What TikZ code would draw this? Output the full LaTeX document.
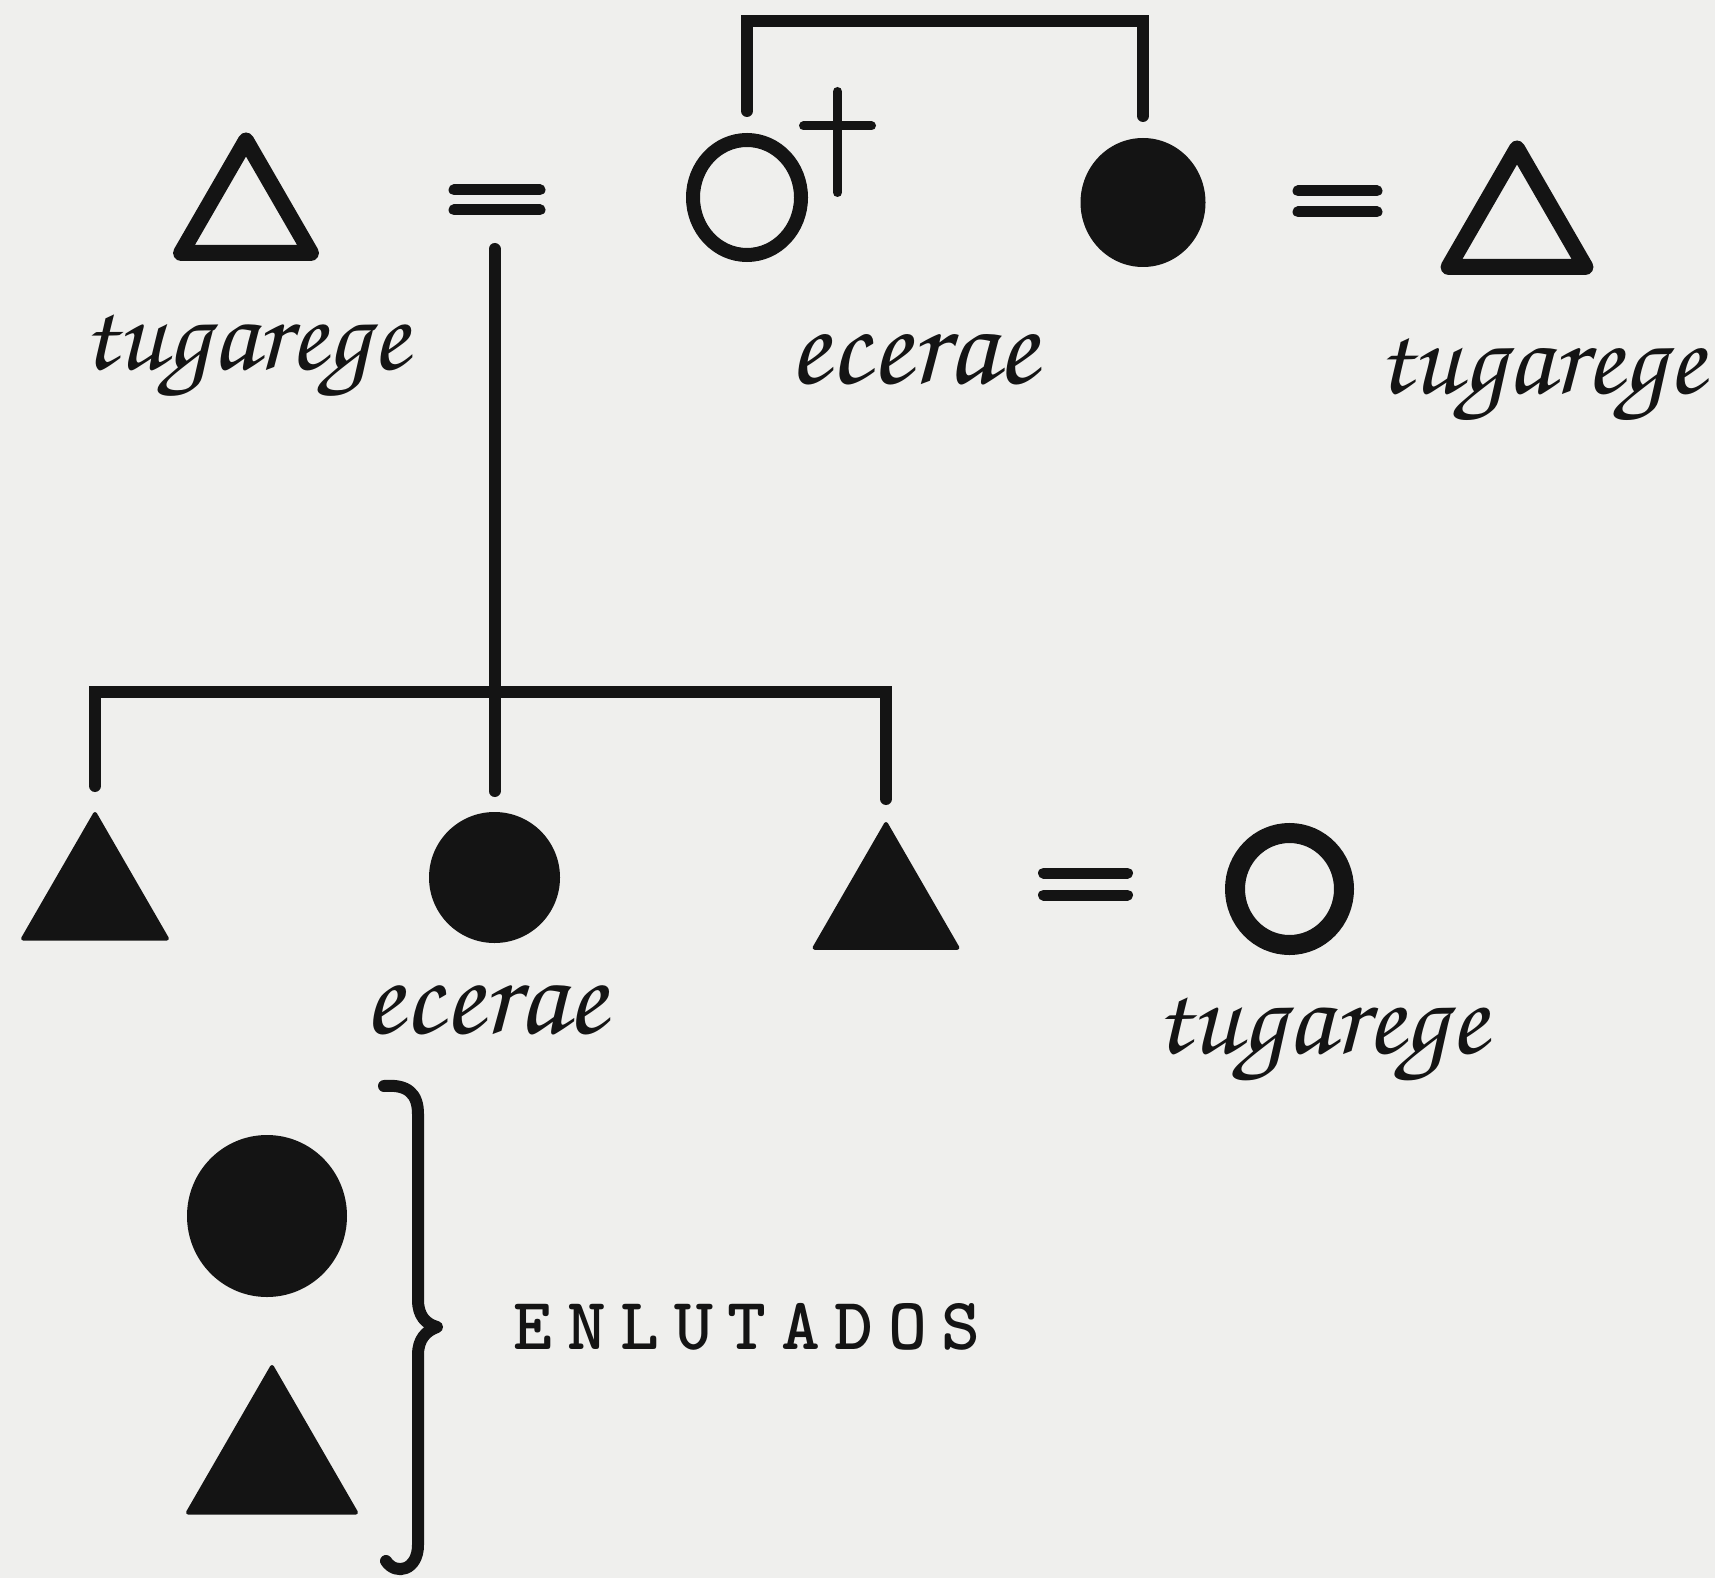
\documentclass[tikz,border=0pt]{standalone}
\usepackage[T1,TU]{fontenc}
\usepackage{graphicx}
\usetikzlibrary{shapes.geometric,calc}

\definecolor{paper}{RGB}{239,239,237}
\definecolor{ink}{RGB}{20,20,20}

% handwritten-looking labels, scaled to a given width
\newcommand\handlabel[2]{\resizebox{#1}{!}{\fontencoding{T1}\fontfamily{pzc}\fontseries{mb}\fontshape{it}\selectfont #2}}
% one typewriter letter on a fixed pitch
\newcommand\tw[1]{\makebox[53.5pt]{#1}}

\begin{document}
\begin{tikzpicture}[x=1pt,y=-1pt,
  every node/.style={inner sep=0pt,outer sep=0pt},
  link/.style={draw=ink,line width=12pt,line cap=round,line join=miter},
  openfem/.style={ellipse,draw=ink},
  fullfem/.style={ellipse,fill=ink},
  openmale/.style={regular polygon,regular polygon sides=3,draw=ink,line width=16pt,line join=round},
  fullmale/.style={regular polygon,regular polygon sides=3,fill=ink,draw=ink,line width=4pt,line join=round},
  eqbar/.style={draw=ink,line width=11pt,line cap=round},
  kinlabel/.style={anchor=base,text=ink}]

\fill[paper] (0,0) rectangle (1715,1578);
\useasboundingbox (0,0) rectangle (1715,1578);

% ---- first generation ----
\node[openmale,minimum size=150pt] (husb1) at (246,215.5) {};
\node[minimum width=86pt,minimum height=20pt] (wed1) at (497,200) {};
\node[openfem,line width=14pt,minimum width=108pt,minimum height=115pt] (dead) at (747,197.5) {};
\node[minimum width=68pt,minimum height=101pt] (cross) at (837.5,142) {};
\node[fullfem,minimum width=125pt,minimum height=129pt] (sis) at (1143,202.5) {};
\node[minimum width=79pt,minimum height=21pt] (wed2) at (1337.5,201.5) {};
\node[openmale,minimum size=158pt] (husb2) at (1517,227.5) {};

% marriage signs
\draw[eqbar] (wed1.north west) -- (wed1.north east);
\draw[eqbar] (wed1.south west) -- (wed1.south east);
\draw[eqbar] (wed2.north west) -- (wed2.north east);
\draw[eqbar] (wed2.south west) -- (wed2.south east);

% death mark
\draw[draw=ink,line width=9pt,line cap=round] (cross.north) -- (cross.south);
\draw[draw=ink,line width=9pt,line cap=round] ([yshift=16pt]cross.west) -- ([yshift=16pt]cross.east);

% sibling bracket of the two sisters
\coordinate (sistop) at (945,21);
\draw[link] ($(dead.north)+(0,-29)$) |- (sistop) -| ($(sis.north)+(0,-22)$);

\node[kinlabel] (lab1) at (245,370) {\handlabel{326pt}{tugarege}};
\node[kinlabel] (lab2) at (913,383) {\handlabel{248pt}{ecerae}};
\node[kinlabel] (lab3) at (1541,393) {\handlabel{328pt}{tugarege}};

% ---- second generation ----
\node[fullmale,minimum size=166pt] (son1) at (95,897) {};
\node[fullfem,minimum width=131pt,minimum height=131pt] (dau) at (494.5,877.5) {};
\node[fullmale,minimum size=165pt] (son2) at (886,906.5) {};
\node[minimum width=84pt,minimum height=22pt] (wed3) at (1085.5,884) {};
\node[openfem,line width=20pt,minimum width=109pt,minimum height=112pt] (wife) at (1289.5,889) {};

\draw[eqbar] (wed3.north west) -- (wed3.north east);
\draw[eqbar] (wed3.south west) -- (wed3.south east);

% descent line and sibling bar
\coordinate (sibrow) at (494.5,692);
\draw[link] ($(dau.north |- wed1.south)+(0,39)$) -- ($(dau.north)+(0,-21)$);
\draw[link] ($(son1.north)+(0,-28)$) |- (sibrow) -| ($(son2.north)+(0,-25)$);

\node[kinlabel] (lab4) at (485,1033) {\handlabel{242pt}{ecerae}};
\node[kinlabel] (lab5) at (1321,1053) {\handlabel{332pt}{tugarege}};

% ---- key ----
\node[fullfem,minimum width=160pt,minimum height=162pt] (keyfem) at (267,1216) {};
\node[fullmale,minimum size=194pt] (keymale) at (272,1464) {};
\coordinate (bracetop) at (384,1086);
\coordinate (bracebot) at (386,1561);
\draw[draw=ink,line width=12pt,line cap=round,line join=round]
  (bracetop) .. controls (408,1084) and (418,1094) .. (418,1114)
  -- (418,1300) .. controls (418,1316) and (426,1324) .. (437,1327)
  .. controls (426,1331) and (418,1339) .. (418,1355)
  -- (418,1545) .. controls (418,1570) and (396,1576) .. (bracebot);
\node[kinlabel,font=\fontsize{74}{80}\selectfont\fontseries{b}\ttfamily] (mourn) at (747,1349)
  {\tw{E}\tw{N}\tw{L}\tw{U}\tw{T}\tw{A}\tw{D}\tw{O}\tw{S}};

\end{tikzpicture}
\end{document}
